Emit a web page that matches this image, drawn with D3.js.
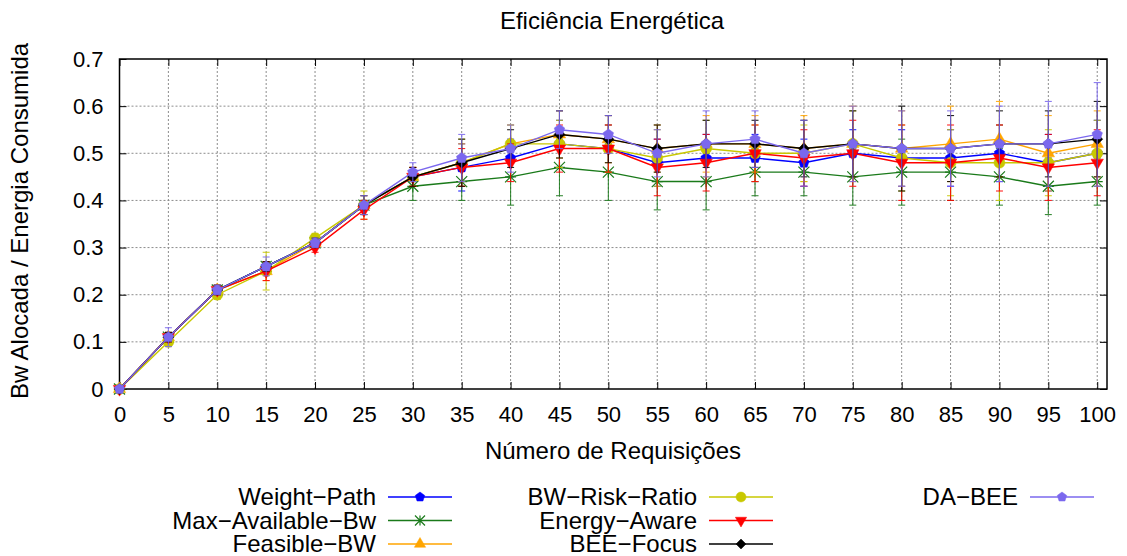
<!DOCTYPE html>
<html>
<head>
<meta charset="utf-8">
<script src="https://cdn.jsdelivr.net/npm/d3@7"></script>
<style>
  html, body { margin: 0; padding: 0; background: #fff; }
  svg { display: block; }
  text { font-family: "Liberation Sans", Arial, Helvetica, sans-serif; fill: #000; }
</style>
</head>
<body>
<svg id="chart" width="1127" height="556"></svg>
<script>
// Number of requests (x axis)
const requests = [0, 5, 10, 15, 20, 25, 30, 35, 40, 45, 50, 55, 60, 65, 70, 75, 80, 85, 90, 95, 100];

// Mean efficiency per algorithm
const weightPath   = [0, 0.11, 0.21, 0.26, 0.31, 0.39, 0.45, 0.47, 0.49, 0.52, 0.51, 0.48, 0.49, 0.49, 0.48, 0.50, 0.49, 0.49, 0.50, 0.48, 0.50];
const maxAvailBw   = [0, 0.11, 0.21, 0.26, 0.31, 0.39, 0.43, 0.44, 0.45, 0.47, 0.46, 0.44, 0.44, 0.46, 0.46, 0.45, 0.46, 0.46, 0.45, 0.43, 0.44];
const feasibleBw   = [0, 0.11, 0.21, 0.25, 0.31, 0.39, 0.45, 0.48, 0.52, 0.54, 0.53, 0.51, 0.52, 0.52, 0.51, 0.52, 0.51, 0.52, 0.53, 0.50, 0.52];
const bwRiskRatio  = [0, 0.10, 0.20, 0.25, 0.32, 0.39, 0.45, 0.48, 0.52, 0.52, 0.51, 0.49, 0.51, 0.50, 0.50, 0.52, 0.49, 0.48, 0.48, 0.48, 0.50];
const energyAware  = [0, 0.11, 0.21, 0.25, 0.30, 0.38, 0.45, 0.47, 0.48, 0.51, 0.51, 0.47, 0.48, 0.50, 0.49, 0.50, 0.48, 0.48, 0.49, 0.47, 0.48];
const beeFocus     = [0, 0.11, 0.21, 0.26, 0.31, 0.39, 0.45, 0.48, 0.51, 0.54, 0.53, 0.51, 0.52, 0.52, 0.51, 0.52, 0.51, 0.51, 0.52, 0.52, 0.53];
const daBee        = [0, 0.11, 0.21, 0.26, 0.31, 0.39, 0.46, 0.49, 0.51, 0.55, 0.54, 0.50, 0.52, 0.53, 0.50, 0.52, 0.51, 0.51, 0.52, 0.52, 0.54];

// Error (± deviation) per algorithm
const weightPathErr  = [0, 0.01, 0.01, 0.01, 0.01, 0.01, 0.01, 0.05, 0.04, 0.05, 0.05, 0.05, 0.05, 0.05, 0.05, 0.05, 0.06, 0.06, 0.06, 0.06, 0.07];
const maxAvailBwErr  = [0, 0.01, 0.01, 0.01, 0.01, 0.01, 0.03, 0.04, 0.06, 0.06, 0.06, 0.06, 0.06, 0.05, 0.05, 0.06, 0.07, 0.06, 0.06, 0.06, 0.05];
const feasibleBwErr  = [0, 0.01, 0.01, 0.02, 0.01, 0.02, 0.02, 0.04, 0.04, 0.05, 0.05, 0.05, 0.06, 0.06, 0.07, 0.08, 0.08, 0.08, 0.08, 0.08, 0.07];
const bwRiskRatioErr = [0, 0.01, 0.01, 0.04, 0.01, 0.03, 0.02, 0.05, 0.04, 0.05, 0.05, 0.06, 0.06, 0.06, 0.06, 0.07, 0.07, 0.07, 0.08, 0.07, 0.07];
const energyAwareErr = [0, 0.01, 0.01, 0.02, 0.01, 0.02, 0.02, 0.04, 0.04, 0.05, 0.05, 0.06, 0.06, 0.06, 0.06, 0.07, 0.08, 0.08, 0.07, 0.07, 0.07];
const beeFocusErr    = [0, 0.01, 0.01, 0.01, 0.01, 0.02, 0.02, 0.05, 0.04, 0.05, 0.05, 0.05, 0.05, 0.05, 0.06, 0.07, 0.09, 0.07, 0.07, 0.07, 0.08];
const daBeeErr       = [0, 0.02, 0.01, 0.02, 0.01, 0.02, 0.02, 0.05, 0.05, 0.04, 0.04, 0.05, 0.07, 0.06, 0.07, 0.08, 0.08, 0.08, 0.08, 0.09, 0.11];

const seriesNames = ["Weight\u2212Path", "Max\u2212Available\u2212Bw", "Feasible\u2212BW", "BW\u2212Risk\u2212Ratio", "Energy\u2212Aware", "BEE\u2212Focus", "DA\u2212BEE"];
const xTicks = [0, 5, 10, 15, 20, 25, 30, 35, 40, 45, 50, 55, 60, 65, 70, 75, 80, 85, 90, 95, 100];
const yTicks = [0, 0.1, 0.2, 0.3, 0.4, 0.5, 0.6, 0.7];

const series = [
  { name: seriesNames[0], values: weightPath,  err: weightPathErr,  color: "#0000ff", marker: "pentagon" },
  { name: seriesNames[1], values: maxAvailBw,  err: maxAvailBwErr,  color: "#1a7a1a", marker: "star" },
  { name: seriesNames[2], values: feasibleBw,  err: feasibleBwErr,  color: "#ffa500", marker: "triUp" },
  { name: seriesNames[3], values: bwRiskRatio, err: bwRiskRatioErr, color: "#c8c800", marker: "circle" },
  { name: seriesNames[4], values: energyAware, err: energyAwareErr, color: "#ff0000", marker: "triDown" },
  { name: seriesNames[5], values: beeFocus,    err: beeFocusErr,    color: "#000000", marker: "diamond" },
  { name: seriesNames[6], values: daBee,       err: daBeeErr,       color: "#7b68ee", marker: "pentagon" }
];

const svg = d3.select("#chart");
const plotL = 119.5, plotR = 1107, plotT = 59, plotB = 389;
const TICK_FONT = 22;
const LABEL_FONT = 24;

const x = d3.scaleLinear().domain([0, 101]).range([plotL, plotR]);
const y = d3.scaleLinear().domain([0, 0.7]).range([plotB, plotT]);

// Grid
const grid = svg.append("g").attr("stroke", "#8c8c8c").attr("stroke-width", 1).attr("stroke-dasharray", "2,2");
grid.selectAll("line.gx").data(xTicks.filter(d => d > 0)).join("line")
  .attr("x1", d => x(d)).attr("x2", d => x(d)).attr("y1", plotT).attr("y2", plotB);
grid.selectAll("line.gy").data(yTicks.filter(d => d > 0 && d < 0.7)).join("line")
  .attr("x1", plotL).attr("x2", plotR).attr("y1", d => y(d)).attr("y2", d => y(d));

// Axes with inward ticks on all sides
const tickLen = 7;
const axB = svg.append("g").attr("transform", `translate(0,${plotB})`)
  .call(d3.axisBottom(x).tickValues(xTicks).tickSize(-tickLen).tickPadding(tickLen + 10).tickFormat(d3.format("d")));
const axT = svg.append("g").attr("transform", `translate(0,${plotT})`)
  .call(d3.axisTop(x).tickValues(xTicks).tickSize(-tickLen).tickFormat(""));
const axL = svg.append("g").attr("transform", `translate(${plotL},0)`)
  .call(d3.axisLeft(y).tickValues(yTicks).tickSize(-tickLen).tickPadding(tickLen + 9).tickFormat(d => d === 0 ? "0" : d3.format(".1f")(d)));
const axR = svg.append("g").attr("transform", `translate(${plotR},0)`)
  .call(d3.axisRight(y).tickValues(yTicks).tickSize(-tickLen).tickFormat(""));
[axB, axT, axL, axR].forEach(a => {
  a.select(".domain").remove();
  a.selectAll(".tick line").attr("stroke", "#000").attr("stroke-width", 1);
  a.selectAll("text").attr("font-size", TICK_FONT).attr("font-family", "Liberation Sans, Arial, sans-serif").attr("fill", "#000");
});

// Border
svg.append("rect").attr("x", plotL).attr("y", plotT).attr("width", plotR - plotL).attr("height", plotB - plotT)
  .attr("fill", "none").attr("stroke", "#000").attr("stroke-width", 1.5);

// Marker shapes
function markerPath(type, size) {
  const r = size / 2;
  if (type === "circle") return d3.symbol(d3.symbolCircle, Math.PI * r * r)();
  if (type === "triUp") return d3.symbol(d3.symbolTriangle, size * size * 0.55)();
  if (type === "diamond") return d3.line()(d3.range(4).map(i => [r * Math.sin(i * Math.PI / 2), -r * Math.cos(i * Math.PI / 2)])) + "Z";
  if (type === "pentagon") return d3.line()(d3.range(5).map(i => [r * Math.sin(i * 2 * Math.PI / 5), -r * Math.cos(i * 2 * Math.PI / 5)])) + "Z";
  return null;
}
function drawMarker(g, type, color, cx, cy, size) {
  if (type === "star") {
    const r = size / 2;
    const p = d3.path();
    p.moveTo(cx - r, cy); p.lineTo(cx + r, cy);
    p.moveTo(cx, cy - r); p.lineTo(cx, cy + r);
    p.moveTo(cx - r, cy - r); p.lineTo(cx + r, cy + r);
    p.moveTo(cx - r, cy + r); p.lineTo(cx + r, cy - r);
    g.append("path").attr("d", p.toString()).attr("stroke", color).attr("stroke-width", 1.2).attr("fill", "none");
    return;
  }
  const rot = type === "triDown" ? 180 : 0;
  const t = type === "triDown" ? "triUp" : type;
  g.append("path").attr("d", markerPath(t, size))
    .attr("transform", `translate(${cx},${cy}) rotate(${rot})`)
    .attr("fill", color).attr("stroke", color).attr("stroke-width", 0.5);
}

const line = d3.line().x((d, i) => x(requests[i])).y(d => y(d));
const MS = 11;

series.forEach(s => {
  const g = svg.append("g");
  // error bars
  const eb = g.append("g").attr("stroke", s.color).attr("stroke-width", 1.1).attr("opacity", 0.85);
  s.values.forEach((v, i) => {
    const e = s.err[i];
    if (!e) return;
    const cx = x(requests[i]);
    eb.append("line").attr("x1", cx).attr("x2", cx).attr("y1", y(v - e)).attr("y2", y(v + e));
    eb.append("line").attr("x1", cx - 3.5).attr("x2", cx + 3.5).attr("y1", y(v - e)).attr("y2", y(v - e));
    eb.append("line").attr("x1", cx - 3.5).attr("x2", cx + 3.5).attr("y1", y(v + e)).attr("y2", y(v + e));
  });
  g.append("path").attr("d", line(s.values)).attr("fill", "none").attr("stroke", s.color).attr("stroke-width", 1.4);
  s.values.forEach((v, i) => drawMarker(g, s.marker, s.color, x(requests[i]), y(v), MS));
});

// Title and axis labels
svg.append("text").attr("x", 612).attr("y", 29).attr("text-anchor", "middle").attr("font-size", LABEL_FONT)
  .text("Eficiência Energética");
svg.append("text").attr("x", 613).attr("y", 459).attr("text-anchor", "middle").attr("font-size", LABEL_FONT)
  .text("Número de Requisições");
svg.append("text").attr("transform", "translate(28,221) rotate(-90)").attr("text-anchor", "middle").attr("font-size", LABEL_FONT)
  .text("Bw Alocada / Energia Consumida");

// Legend: three columns, filled column by column
const legCols = [376, 697, 1018];
const legRows = [497, 520.5, 544];
series.forEach((s, k) => {
  const col = Math.floor(k / 3), row = k % 3;
  const tx = legCols[col], ty = legRows[row];
  const g = svg.append("g");
  g.append("text").attr("x", tx).attr("y", ty).attr("dy", "0.35em").attr("text-anchor", "end").attr("font-size", LABEL_FONT).text(s.name);
  const lx0 = tx + 12, lx1 = tx + 76;
  g.append("line").attr("x1", lx0).attr("x2", lx1).attr("y1", ty).attr("y2", ty).attr("stroke", s.color).attr("stroke-width", 1.4);
  drawMarker(g, s.marker, s.color, (lx0 + lx1) / 2, ty, 10);
});
</script>
</body>
</html>
